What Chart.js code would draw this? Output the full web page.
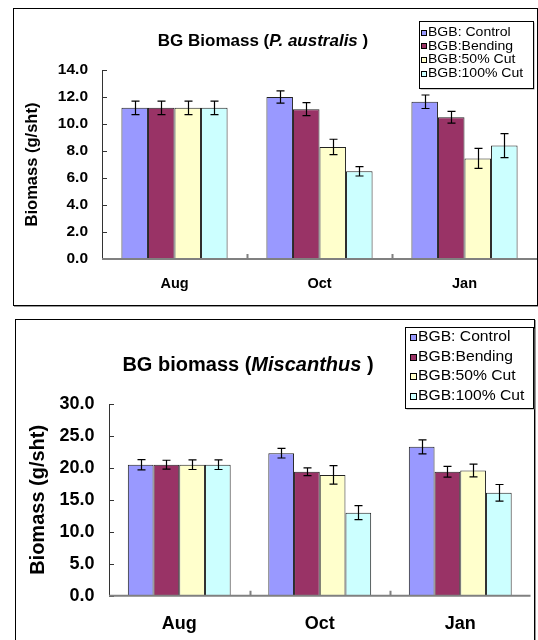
<!DOCTYPE html>
<html><head><meta charset="utf-8">
<script src="https://cdn.jsdelivr.net/npm/chart.js@4.4.1/dist/chart.umd.min.js"></script>
<style>
html,body{margin:0;padding:0;background:#fff;width:538px;height:640px;overflow:hidden;position:relative;}
.box{position:absolute;border:1px solid #000;box-shadow:1px 1px 0 #999;}
canvas{position:absolute;left:0;}
</style></head><body>
<div class="box" style="left:13px;top:8px;width:523px;height:296px"></div>
<div class="box" style="left:15px;top:319px;width:518px;height:340px"></div>
<canvas id="c1" width="538" height="310" style="top:0"></canvas>
<canvas id="c2" width="538" height="330" style="top:310px"></canvas>
<script>
// ---------- data ----------
const months = ['Aug', 'Oct', 'Jan'];
const seriesLabels = ['BGB: Control', 'BGB:Bending', 'BGB:50% Cut', 'BGB:100% Cut'];
const seriesColors = ['#9999FF', '#993366', '#FFFFCC', '#CCFFFF'];
const yAxisTitle = 'Biomass (g/sht)';

// P. australis
const paTitle = [['BG Biomass (', false], ['P. australis', true], [' )', false]];
const paControl = [11.2, 12.0, 11.65];
const paBending = [11.2, 11.1, 10.5];
const paCut50 = [11.2, 8.3, 7.45];
const paCut100 = [11.2, 6.5, 8.4];
const paControlErr = [0.5, 0.45, 0.5];
const paBendingErr = [0.5, 0.48, 0.44];
const paCut50Err = [0.5, 0.57, 0.74];
const paCut100Err = [0.5, 0.35, 0.89];

// Miscanthus
const miTitle = [['BG biomass (', false], ['Miscanthus', true], [' )', false]];
const miControl = [20.5, 22.3, 23.3];
const miBending = [20.5, 19.4, 19.4];
const miCut50 = [20.5, 18.9, 19.6];
const miCut100 = [20.5, 13.0, 16.1];
const miControlErr = [0.8, 0.75, 1.1];
const miBendingErr = [0.7, 0.6, 0.85];
const miCut50Err = [0.75, 1.45, 1.0];
const miCut100Err = [0.75, 1.1, 1.3];

const FONT = '"Liberation Sans", Arial, Helvetica, sans-serif';

// ---------- plugins ----------
const axesPlugin = {
  id: 'axesLines',
  afterDatasetsDraw(chart) {
    const {ctx, chartArea: a, scales: {x, y}} = chart;
    ctx.save();
    ctx.strokeStyle = '#333'; ctx.lineWidth = 1;
    ctx.beginPath();
    ctx.moveTo(a.left + 0.5, a.top); ctx.lineTo(a.left + 0.5, a.bottom);
    y.ticks.forEach(t => {
      const py = Math.round(y.getPixelForValue(t.value)) + 0.5;
      ctx.moveTo(a.left, py); ctx.lineTo(a.left + 5, py);
    });
    ctx.stroke();
    ctx.strokeStyle = '#808080'; ctx.lineWidth = 2;
    ctx.beginPath();
    ctx.moveTo(a.left, a.bottom); ctx.lineTo(a.right, a.bottom);
    for (let i = 1; i < chart.data.labels.length; i++) {
      const px = Math.round((x.getPixelForTick(i - 1) + x.getPixelForTick(i)) / 2) + 0.5;
      ctx.moveTo(px, a.bottom); ctx.lineTo(px, a.bottom - 5);
    }
    ctx.stroke();
    ctx.restore();
  }
};

const errorBarPlugin = {
  id: 'errorBars',
  afterDatasetsDraw(chart) {
    const {ctx, scales: {y}} = chart;
    ctx.save();
    ctx.strokeStyle = '#000'; ctx.lineWidth = 1.2;
    chart.data.datasets.forEach((ds, i) => {
      const meta = chart.getDatasetMeta(i);
      meta.data.forEach((bar, j) => {
        const v = ds.data[j], e = ds.errors[j];
        const yt = y.getPixelForValue(v + e), yb = y.getPixelForValue(v - e);
        const cx = Math.round(bar.x) + 0.5;
        ctx.beginPath();
        ctx.moveTo(cx, yt); ctx.lineTo(cx, yb);
        ctx.moveTo(cx - 4, yt); ctx.lineTo(cx + 4, yt);
        ctx.moveTo(cx - 4, yb); ctx.lineTo(cx + 4, yb);
        ctx.stroke();
      });
    });
    ctx.restore();
  }
};

const titlePlugin = {
  id: 'mixedTitle',
  afterDraw(chart, args, o) {
    const ctx = chart.ctx;
    ctx.save();
    ctx.fillStyle = '#000';
    ctx.textBaseline = 'middle';
    const fonts = o.parts.map(p => (p[1] ? 'italic ' : '') + 'bold ' + o.size + 'px ' + FONT);
    const widths = o.parts.map((p, i) => { ctx.font = fonts[i]; return ctx.measureText(p[0]).width; });
    let x = o.x - widths.reduce((s, w) => s + w, 0) / 2;
    o.parts.forEach((p, i) => { ctx.font = fonts[i]; ctx.fillText(p[0], x, o.y); x += widths[i]; });
    ctx.restore();
  }
};

const legendPlugin = {
  id: 'boxLegend',
  afterDraw(chart, args, o) {
    const ctx = chart.ctx;
    ctx.save();
    ctx.fillStyle = '#999';
    ctx.fillRect(o.x + 1.5, o.y + 1.5, o.w, o.h);
    ctx.fillStyle = '#fff';
    ctx.fillRect(o.x, o.y, o.w, o.h);
    ctx.strokeStyle = '#000'; ctx.lineWidth = 1;
    ctx.strokeRect(o.x + 0.5, o.y + 0.5, o.w, o.h);
    ctx.font = o.size + 'px ' + FONT;
    ctx.textBaseline = 'middle';
    chart.data.datasets.forEach((ds, i) => {
      const cy = o.y + o.first + i * o.step;
      ctx.fillStyle = ds.backgroundColor;
      ctx.fillRect(o.x + o.sq, Math.round(cy - o.s / 2), o.s, o.s);
      ctx.strokeStyle = '#000';
      ctx.strokeRect(o.x + o.sq + 0.5, Math.round(cy - o.s / 2) + 0.5, o.s - 1, o.s - 1);
      ctx.fillStyle = '#000';
      ctx.save();
      ctx.translate(o.x + o.tx, cy);
      ctx.scale(o.sx, 1);
      ctx.fillText(ds.label, 0, 0);
      ctx.restore();
    });
    ctx.restore();
  }
};

function makeDatasets(vals, errs) {
  return seriesLabels.map((lab, i) => ({
    label: lab,
    data: vals[i],
    errors: errs[i],
    backgroundColor: seriesColors[i],
    borderColor: '#222',
    borderWidth: 1,
    categoryPercentage: 0.732,
    barPercentage: 1.0
  }));
}

function makeChart(id, cfg) {
  return new Chart(document.getElementById(id), {
    type: 'bar',
    data: { labels: months, datasets: makeDatasets(cfg.vals, cfg.errs) },
    options: {
      responsive: false,
      animation: false,
      devicePixelRatio: 1,
      layout: { padding: cfg.pad },
      plugins: {
        legend: { display: false },
        tooltip: { enabled: false },
        mixedTitle: cfg.title,
        boxLegend: cfg.legend
      },
      scales: {
        x: {
          ticks: { color: '#000', padding: cfg.xPad, font: { family: FONT, size: cfg.xFont, weight: 'bold' } },
          grid: { display: false, drawTicks: false },
          border: { display: false },
          afterFit(s) { s.height = cfg.xHeight; }
        },
        y: {
          min: 0, max: cfg.max,
          ticks: { stepSize: cfg.step, color: '#000', padding: cfg.yPad,
                   font: { family: FONT, size: cfg.yFont, weight: 'bold' },
                   callback: v => Number(v).toFixed(1) },
          grid: { display: false, drawTicks: false },
          border: { display: false },
          title: { display: true, text: yAxisTitle, color: '#000',
                   font: { family: FONT, size: cfg.yTitleFont, weight: 'bold' },
                   padding: { top: cfg.yTitlePad, bottom: 0 } },
          afterFit(s) { s.width = cfg.yWidth; }
        }
      }
    },
    plugins: [axesPlugin, errorBarPlugin, titlePlugin, legendPlugin]
  });
}

makeChart('c1', {
  vals: [paControl, paBending, paCut50, paCut100],
  errs: [paControlErr, paBendingErr, paCut50Err, paCut100Err],
  max: 14, step: 2,
  pad: { left: 0, right: 1, top: 70, bottom: 0 },
  xHeight: 51, yWidth: 102,
  xPad: 16, xFont: 14.5, yPad: 14, yFont: 15.5,
  yTitleFont: 16.5, yTitlePad: 23,
  title: { parts: paTitle, size: 17, x: 263, y: 41 },
  legend: { x: 419, y: 21, w: 114, h: 67, first: 11.5, step: 13.7, sq: 2, s: 6, tx: 9, size: 13, sx: 1.08 }
});

makeChart('c2', {
  vals: [miControl, miBending, miCut50, miCut100],
  errs: [miControlErr, miBendingErr, miCut50Err, miCut100Err],
  max: 30, step: 5,
  pad: { left: 0, right: 7.5, top: 94, bottom: 0 },
  xHeight: 44.3, yWidth: 109,
  xPad: 17.5, xFont: 18, yPad: 14.5, yFont: 18,
  yTitleFont: 20, yTitlePad: 26.5,
  title: { parts: miTitle, size: 20, x: 248, y: 55 },
  legend: { x: 405, y: 17, w: 128, h: 81, first: 10.5, step: 19.5, sq: 5, s: 7, tx: 13, size: 14, sx: 1.12 }
});
</script>
</body></html>
